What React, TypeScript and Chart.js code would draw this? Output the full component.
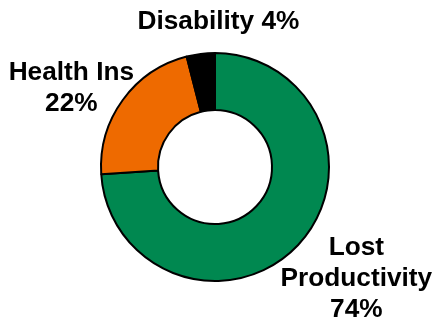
import React, { useEffect, useRef } from "react";
import { Chart, registerables } from "chart.js";

Chart.register(...registerables);

const categories = ["Lost Productivity", "Health Ins", "Disability"];
const values = [74, 22, 4];
const colors = ["#008850", "#EE6A00", "#000000"];
// label lines per slice
const labelLines = [["Lost", "Productivity", "74%"], ["Health Ins", "22%"], ["Disability 4%"]];
// label block center offsets relative to doughnut center, in units of outer radius
const labelOffsets = [
  [1.24, 0.98],
  [-1.26, -0.69],
  [0.03, -1.27],
];

const labelPlugin = {
  id: "outerLabels",
  afterDraw(chart: any) {
    const meta = chart.getDatasetMeta(0);
    const ctx = chart.ctx;
    ctx.save();
    ctx.font = "bold 25px 'Liberation Sans', Arial, sans-serif";
    ctx.fillStyle = "#000";
    ctx.textAlign = "center";
    ctx.textBaseline = "middle";
    const lh = 31;
    const sx = 1.05;
    meta.data.forEach((arc: any, i: number) => {
      const r = arc.outerRadius;
      const cx = arc.x + labelOffsets[i][0] * r;
      const cy = arc.y + labelOffsets[i][1] * r;
      const lines = labelLines[i];
      const start = cy - ((lines.length - 1) * lh) / 2;
      lines.forEach((t, j) => {
        ctx.save();
        ctx.translate(cx, start + j * lh);
        ctx.scale(sx, 1);
        ctx.fillText(t, 0, 0);
        ctx.restore();
      });
    });
    ctx.restore();
  },
};

export default function App() {
  const ref = useRef<HTMLCanvasElement>(null);
  useEffect(() => {
    document.body.style.margin = "0";
    const chart = new Chart(ref.current!, {
      type: "doughnut",
      data: {
        labels: categories,
        datasets: [
          {
            data: values,
            backgroundColor: colors,
            borderColor: "#000",
            borderWidth: 2,
          },
        ],
      },
      options: {
        animation: false,
        responsive: false,
        cutout: "50%",
        layout: { padding: { left: 100, right: 103, top: 52, bottom: 41 } },
        plugins: { legend: { display: false }, tooltip: { enabled: false } },
      },
      plugins: [labelPlugin],
    });
    return () => chart.destroy();
  }, []);
  return (
    <div style={{ width: 433, height: 323, background: "#fff" }}>
      <canvas ref={ref} width={433} height={323} />
    </div>
  );
}
